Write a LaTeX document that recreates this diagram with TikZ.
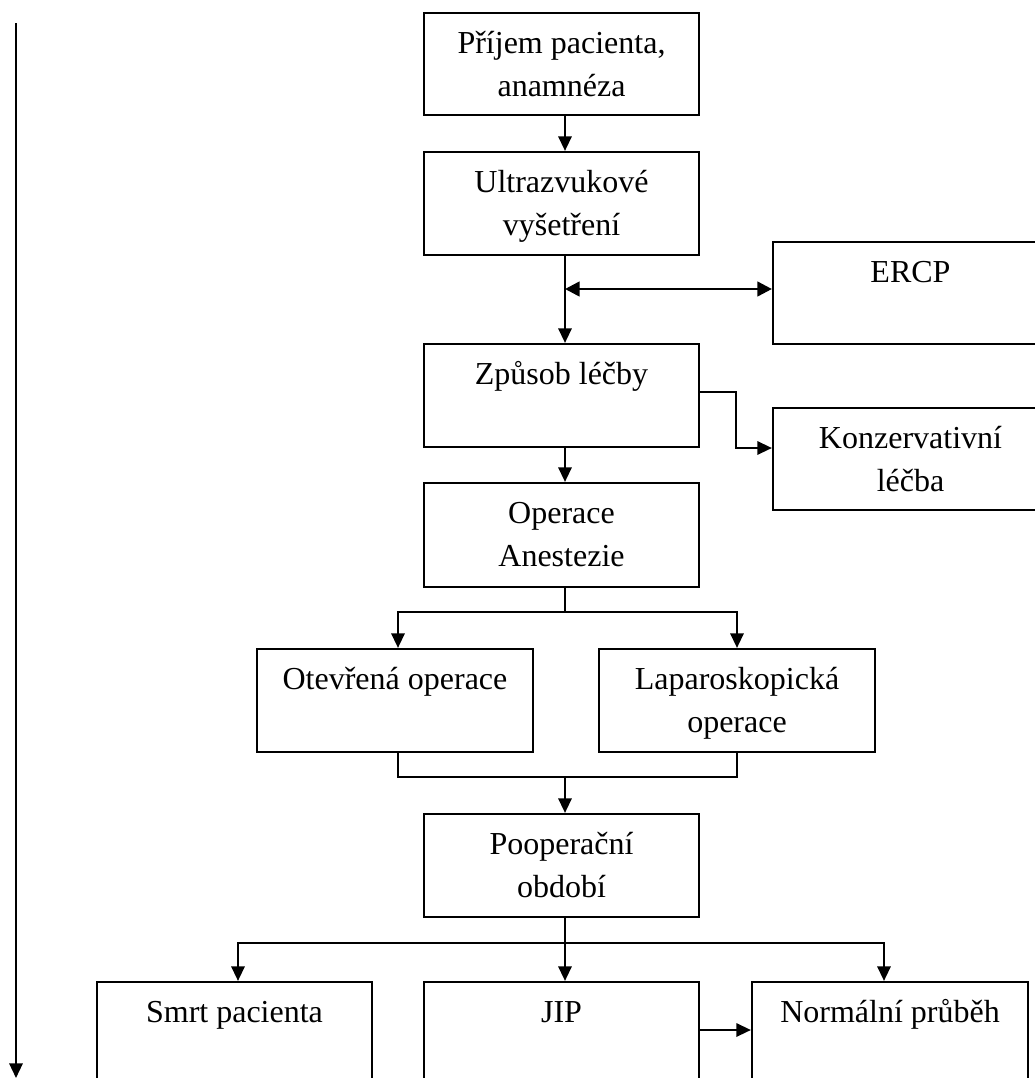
\documentclass[tikz,border=0pt]{standalone}
\usepackage{fontspec}
\setmainfont{Liberation Serif}
\usetikzlibrary{arrows.meta,fit}
\begin{document}
\begin{tikzpicture}[x=0.75pt,y=-0.75pt,
  box/.style={draw, line width=1.6pt, inner sep=0pt},
  lbl/.style={anchor=north, inner sep=0pt, align=center, font=\fontsize{24}{32.5}\selectfont},
  arr/.style={line width=1.7pt, -{Triangle[length=11pt,width=10pt]}},
  darr/.style={line width=2pt, {Triangle[length=11pt,width=11pt]}-{Triangle[length=11pt,width=11pt]}},
  ln/.style={line width=1pt}]
\path[use as bounding box, clip] (0,0) rectangle (1035,1078);
% boxes
\node[box, fit={(424,13) (699,115)}] (b1) {};
\node[box, fit={(424,152) (699,255)}] (b2) {};
\node[box, fit={(773,242) (1048,344)}] (ercp) {};
\node[box, fit={(424,344) (699,447)}] (b3) {};
\node[box, fit={(773,408) (1048,510)}] (kons) {};
\node[box, fit={(424,483) (699,587)}] (b4) {};
\node[box, fit={(257,649) (533,752)}] (ot) {};
\node[box, fit={(599,649) (875,752)}] (lap) {};
\node[box, fit={(424,814) (699,917)}] (poop) {};
\node[box, fit={(97,982) (372,1100)}] (smrt) {};
\node[box, fit={(424,982) (699,1100)}] (jip) {};
\node[box, fit={(752,982) (1028,1100)}] (norm) {};
% labels
\node[lbl] (t1) at ([yshift=-8pt]b1.north) {\strut Příjem pacienta,\\anamnéza};
\node[lbl] (t2) at ([yshift=-8pt]b2.north) {\strut Ultrazvukové\\vyšetření};
\node[lbl] (t3) at ([yshift=-8pt]ercp.north) {\strut ERCP};
\node[lbl] (t4) at ([yshift=-8pt]b3.north) {\strut Způsob léčby};
\node[lbl] (t5) at ([yshift=-8pt]kons.north) {\strut Konzervativní\\léčba};
\node[lbl] (t6) at ([yshift=-8pt]b4.north) {\strut Operace\\Anestezie};
\node[lbl] (t7) at ([yshift=-8pt]ot.north) {\strut Otevřená operace};
\node[lbl] (t8) at ([yshift=-8pt]lap.north) {\strut Laparoskopická\\operace};
\node[lbl] (t9) at ([yshift=-8pt]poop.north) {\strut Pooperační\\období};
\node[lbl] (t10) at ([yshift=-8pt]smrt.north) {\strut Smrt pacienta};
\node[lbl] (t11) at ([yshift=-8pt]jip.north) {\strut JIP};
\node[lbl] (t12) at ([yshift=-8pt]norm.north) {\strut Normální průběh};
% helper coordinates
\coordinate (cx) at (565,0);
\coordinate (xl) at (398,0);
\coordinate (xr) at (737,0);
\coordinate (x1) at (238,0);
\coordinate (x3) at (884,0);
\coordinate (j1) at (565,289);
\coordinate (k1) at (736,392);
\coordinate (k2) at (736,448);
\coordinate (s1) at (565,612);
\coordinate (s2) at (565,777);
\coordinate (s3) at (565,943);
\coordinate (s4) at (0,1030);
\coordinate (L1) at (16,23);
\coordinate (L2) at (16,1078);
% connectors
\draw[arr] (b1.south -| cx) -- (b2.north -| cx);
\draw[ln] (b2.south -| cx) -- (j1);
\draw[arr] (j1) -- (b3.north -| cx);
\draw[darr] (j1) -- (j1 -| ercp.west);
\draw[arr] (b3.south -| cx) -- (b4.north -| cx);
\draw[arr] (k1 -| b3.east) -- (k1) -- (k2) -- (k2 -| kons.west);
\draw[ln] (b4.south -| cx) -- (s1);
\draw[arr] (s1) -| (ot.north -| xl);
\draw[arr] (s1) -| (lap.north -| xr);
\draw[ln] (ot.south -| xl) |- (s2) -| (lap.south -| xr);
\draw[arr] (s2) -- (poop.north -| cx);
\draw[ln] (poop.south -| cx) -- (s3);
\draw[arr] (s3) -| (smrt.north -| x1);
\draw[arr] (s3) -| (norm.north -| x3);
\draw[arr] (s3) -- (jip.north -| cx);
\draw[arr] (jip.east |- s4) -- (norm.west |- s4);
\draw[arr] (L1) -- (L2);
\end{tikzpicture}
\end{document}
